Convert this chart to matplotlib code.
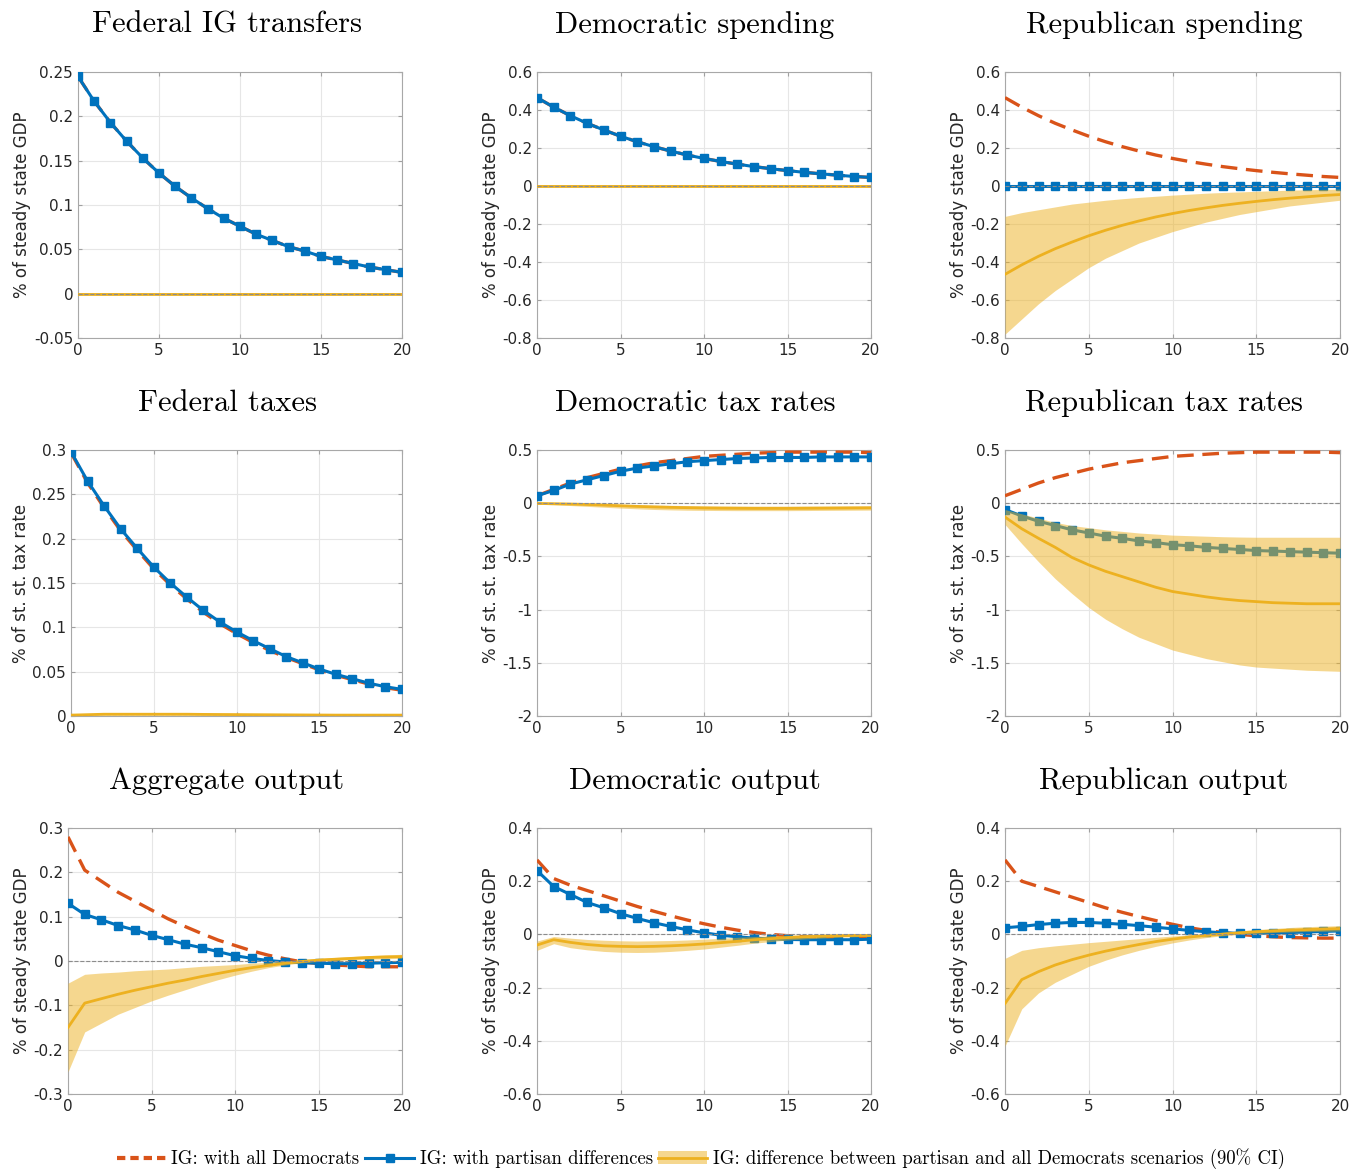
import numpy as np
import matplotlib
matplotlib.use("Agg")
import matplotlib.pyplot as plt
from matplotlib.patches import Patch
from matplotlib.lines import Line2D
from matplotlib.ticker import FuncFormatter

# horizon (quarters)
horizon = list(range(21))

titles = ["Federal IG transfers", "Democratic spending", "Republican spending",
          "Federal taxes", "Democratic tax rates", "Republican tax rates",
          "Aggregate output", "Democratic output", "Republican output"]
ylabels = ["% of steady state GDP", "% of steady state GDP", "% of steady state GDP",
           "% of st. st. tax rate", "% of st. st. tax rate", "% of st. st. tax rate",
           "% of steady state GDP", "% of steady state GDP", "% of steady state GDP"]

# --- Federal IG transfers ---
fed_ig_dem = [0.245, 0.217, 0.193, 0.172, 0.153, 0.136, 0.121, 0.108, 0.096, 0.085, 0.076,
              0.067, 0.060, 0.053, 0.048, 0.042, 0.038, 0.034, 0.030, 0.027, 0.024]
fed_ig_par = [0.245, 0.217, 0.193, 0.172, 0.153, 0.136, 0.121, 0.108, 0.096, 0.085, 0.076,
              0.067, 0.060, 0.053, 0.048, 0.042, 0.038, 0.034, 0.030, 0.027, 0.024]
fed_ig_diff = [0.0] * 21
fed_ig_lo = [-0.001] * 21
fed_ig_hi = [0.001] * 21

# --- Democratic spending ---
dem_sp_dem = [0.465, 0.415, 0.370, 0.330, 0.295, 0.262, 0.233, 0.207, 0.184, 0.163, 0.145,
              0.129, 0.115, 0.102, 0.091, 0.081, 0.072, 0.064, 0.057, 0.050, 0.045]
dem_sp_par = [0.465, 0.415, 0.370, 0.330, 0.295, 0.262, 0.233, 0.207, 0.184, 0.163, 0.145,
              0.129, 0.115, 0.102, 0.091, 0.081, 0.072, 0.064, 0.057, 0.050, 0.045]
dem_sp_diff = [0.0] * 21
dem_sp_lo = [-0.004] * 21
dem_sp_hi = [0.004] * 21

# --- Republican spending ---
rep_sp_dem = [0.465, 0.415, 0.370, 0.330, 0.295, 0.262, 0.233, 0.207, 0.184, 0.163, 0.145,
              0.129, 0.115, 0.102, 0.091, 0.081, 0.072, 0.064, 0.057, 0.050, 0.045]
rep_sp_par = [0.0] * 21
rep_sp_diff = [-0.465, -0.415, -0.370, -0.330, -0.295, -0.262, -0.233, -0.207, -0.184, -0.163, -0.145,
               -0.129, -0.115, -0.102, -0.091, -0.081, -0.072, -0.064, -0.057, -0.050, -0.045]
rep_sp_lo = [-0.78, -0.70, -0.62, -0.55, -0.49, -0.43, -0.38, -0.34, -0.30, -0.27, -0.24,
             -0.215, -0.19, -0.17, -0.15, -0.135, -0.12, -0.105, -0.095, -0.085, -0.075]
rep_sp_hi = [-0.16, -0.14, -0.125, -0.11, -0.095, -0.085, -0.075, -0.067, -0.06, -0.054, -0.048,
             -0.043, -0.038, -0.034, -0.031, -0.028, -0.025, -0.022, -0.02, -0.018, -0.016]

# --- Federal taxes ---
fed_tx_dem = [0.297, 0.263, 0.235, 0.209, 0.187, 0.166, 0.148, 0.132, 0.117, 0.104, 0.093,
              0.083, 0.074, 0.066, 0.059, 0.052, 0.046, 0.041, 0.036, 0.032, 0.029]
fed_tx_par = [0.298, 0.265, 0.237, 0.211, 0.189, 0.168, 0.150, 0.134, 0.119, 0.106, 0.095,
              0.085, 0.076, 0.067, 0.060, 0.053, 0.047, 0.042, 0.037, 0.033, 0.030]
fed_tx_diff = [0.001, 0.0015, 0.002, 0.002, 0.002, 0.002, 0.002, 0.002, 0.0018, 0.0017, 0.0016,
               0.0015, 0.0014, 0.0013, 0.0012, 0.0011, 0.001, 0.001, 0.001, 0.001, 0.001]
fed_tx_lo = [0.0, 0.0005, 0.001, 0.001, 0.001, 0.001, 0.001, 0.001, 0.0009, 0.0008, 0.0008,
             0.0007, 0.0006, 0.0006, 0.0005, 0.0005, 0.0004, 0.0004, 0.0004, 0.0004, 0.0004]
fed_tx_hi = [0.002, 0.0025, 0.003, 0.0032, 0.0033, 0.0033, 0.0033, 0.0032, 0.003, 0.0028, 0.0026,
             0.0024, 0.0022, 0.002, 0.0019, 0.0018, 0.0017, 0.0016, 0.0016, 0.0016, 0.0016]

# --- Democratic tax rates ---
dem_tx_dem = [0.07, 0.13, 0.19, 0.24, 0.28, 0.32, 0.35, 0.38, 0.40, 0.42, 0.44,
              0.45, 0.46, 0.47, 0.475, 0.48, 0.48, 0.48, 0.48, 0.48, 0.475]
dem_tx_par = [0.07, 0.12, 0.18, 0.22, 0.26, 0.30, 0.33, 0.35, 0.37, 0.39, 0.40,
              0.41, 0.42, 0.425, 0.43, 0.43, 0.43, 0.435, 0.435, 0.435, 0.435]
dem_tx_diff = [-0.002, -0.005, -0.008, -0.012, -0.018, -0.024, -0.030, -0.035, -0.039, -0.042, -0.045,
               -0.047, -0.048, -0.049, -0.049, -0.049, -0.048, -0.047, -0.046, -0.045, -0.044]
dem_tx_lo = [-0.01, -0.015, -0.022, -0.03, -0.038, -0.046, -0.053, -0.059, -0.063, -0.066, -0.068,
             -0.069, -0.07, -0.07, -0.07, -0.07, -0.069, -0.068, -0.067, -0.066, -0.065]
dem_tx_hi = [0.004, 0.002, 0.0, -0.002, -0.006, -0.01, -0.014, -0.017, -0.02, -0.022, -0.024,
             -0.025, -0.026, -0.027, -0.027, -0.027, -0.026, -0.026, -0.025, -0.024, -0.023]

# --- Republican tax rates ---
rep_tx_dem = [0.07, 0.13, 0.19, 0.24, 0.28, 0.32, 0.35, 0.38, 0.40, 0.42, 0.44,
              0.45, 0.46, 0.47, 0.475, 0.48, 0.48, 0.48, 0.48, 0.48, 0.475]
rep_tx_par = [-0.06, -0.12, -0.17, -0.21, -0.25, -0.28, -0.31, -0.33, -0.355, -0.37, -0.39,
              -0.40, -0.415, -0.425, -0.435, -0.445, -0.45, -0.455, -0.46, -0.465, -0.47]
rep_tx_diff = [-0.13, -0.24, -0.33, -0.415, -0.51, -0.58, -0.64, -0.69, -0.74, -0.79, -0.83,
               -0.855, -0.88, -0.90, -0.915, -0.925, -0.935, -0.94, -0.945, -0.945, -0.945]
rep_tx_lo = [-0.2, -0.38, -0.55, -0.71, -0.85, -0.98, -1.09, -1.18, -1.26, -1.32, -1.38,
             -1.42, -1.46, -1.49, -1.52, -1.54, -1.55, -1.56, -1.57, -1.575, -1.58]
rep_tx_hi = [-0.06, -0.10, -0.14, -0.18, -0.21, -0.23, -0.25, -0.265, -0.28, -0.29, -0.30,
             -0.305, -0.31, -0.315, -0.318, -0.32, -0.32, -0.32, -0.32, -0.32, -0.32]

# --- Aggregate output ---
agg_y_dem = [0.28, 0.205, 0.18, 0.155, 0.135, 0.115, 0.095, 0.078, 0.062, 0.047, 0.035,
             0.023, 0.013, 0.005, -0.002, -0.006, -0.009, -0.011, -0.013, -0.013, -0.013]
agg_y_par = [0.13, 0.105, 0.093, 0.08, 0.07, 0.058, 0.048, 0.038, 0.03, 0.021, 0.012,
             0.006, 0.001, -0.002, -0.004, -0.005, -0.006, -0.006, -0.005, -0.004, -0.003]
agg_y_diff = [-0.15, -0.095, -0.085, -0.075, -0.066, -0.058, -0.05, -0.043, -0.035, -0.028, -0.021,
              -0.015, -0.01, -0.005, -0.001, 0.002, 0.004, 0.006, 0.008, 0.009, 0.01]
agg_y_lo = [-0.25, -0.16, -0.14, -0.12, -0.105, -0.09, -0.077, -0.065, -0.053, -0.042, -0.032,
            -0.023, -0.015, -0.009, -0.004, -0.001, 0.001, 0.003, 0.004, 0.005, 0.006]
agg_y_hi = [-0.05, -0.03, -0.027, -0.025, -0.022, -0.02, -0.018, -0.015, -0.012, -0.01, -0.008,
            -0.005, -0.003, 0.0, 0.003, 0.006, 0.008, 0.01, 0.012, 0.014, 0.015]

# --- Democratic output ---
dem_y_dem = [0.28, 0.21, 0.185, 0.165, 0.145, 0.125, 0.105, 0.087, 0.07, 0.054, 0.04,
             0.027, 0.016, 0.007, 0.0, -0.005, -0.009, -0.011, -0.012, -0.012, -0.012]
dem_y_par = [0.24, 0.18, 0.15, 0.12, 0.10, 0.078, 0.06, 0.044, 0.03, 0.017, 0.006,
             -0.003, -0.009, -0.014, -0.017, -0.019, -0.02, -0.02, -0.02, -0.02, -0.018]
dem_y_diff = [-0.04, -0.02, -0.03, -0.038, -0.043, -0.045, -0.046, -0.045, -0.043, -0.04, -0.036,
              -0.031, -0.026, -0.02, -0.016, -0.012, -0.009, -0.007, -0.005, -0.004, -0.004]
dem_y_lo = [-0.06, -0.035, -0.05, -0.058, -0.064, -0.067, -0.068, -0.067, -0.064, -0.06, -0.055,
            -0.048, -0.041, -0.033, -0.027, -0.021, -0.017, -0.014, -0.011, -0.009, -0.008]
dem_y_hi = [-0.025, -0.008, -0.014, -0.019, -0.022, -0.024, -0.025, -0.024, -0.023, -0.021, -0.018,
            -0.015, -0.011, -0.008, -0.005, -0.003, -0.001, 0.0, 0.001, 0.001, 0.001]

# --- Republican output ---
rep_y_dem = [0.28, 0.20, 0.18, 0.16, 0.14, 0.12, 0.10, 0.083, 0.067, 0.052, 0.038,
             0.025, 0.015, 0.007, 0.0, -0.005, -0.009, -0.012, -0.013, -0.014, -0.014]
rep_y_par = [0.025, 0.03, 0.037, 0.042, 0.045, 0.045, 0.042, 0.038, 0.033, 0.027, 0.021,
             0.015, 0.01, 0.006, 0.004, 0.004, 0.005, 0.007, 0.009, 0.011, 0.013]
rep_y_diff = [-0.26, -0.17, -0.14, -0.115, -0.095, -0.078, -0.063, -0.05, -0.038, -0.027, -0.018,
              -0.01, -0.004, 0.001, 0.006, 0.01, 0.013, 0.016, 0.018, 0.02, 0.022]
rep_y_lo = [-0.42, -0.28, -0.22, -0.18, -0.15, -0.12, -0.097, -0.077, -0.06, -0.045, -0.032,
            -0.021, -0.012, -0.005, 0.0, 0.004, 0.007, 0.009, 0.011, 0.012, 0.013]
rep_y_hi = [-0.09, -0.06, -0.05, -0.043, -0.037, -0.031, -0.026, -0.021, -0.016, -0.011, -0.006,
            -0.002, 0.003, 0.008, 0.013, 0.018, 0.022, 0.026, 0.029, 0.031, 0.033]

all_dem = [fed_ig_dem, dem_sp_dem, rep_sp_dem, fed_tx_dem, dem_tx_dem, rep_tx_dem, agg_y_dem, dem_y_dem, rep_y_dem]
all_par = [fed_ig_par, dem_sp_par, rep_sp_par, fed_tx_par, dem_tx_par, rep_tx_par, agg_y_par, dem_y_par, rep_y_par]
all_diff = [fed_ig_diff, dem_sp_diff, rep_sp_diff, fed_tx_diff, dem_tx_diff, rep_tx_diff, agg_y_diff, dem_y_diff, rep_y_diff]
all_lo = [fed_ig_lo, dem_sp_lo, rep_sp_lo, fed_tx_lo, dem_tx_lo, rep_tx_lo, agg_y_lo, dem_y_lo, rep_y_lo]
all_hi = [fed_ig_hi, dem_sp_hi, rep_sp_hi, fed_tx_hi, dem_tx_hi, rep_tx_hi, agg_y_hi, dem_y_hi, rep_y_hi]

ylims = [(-0.05, 0.25), (-0.8, 0.6), (-0.8, 0.6),
         (0, 0.3), (-2, 0.5), (-2, 0.5),
         (-0.3, 0.3), (-0.6, 0.4), (-0.6, 0.4)]
ysteps = [0.05, 0.2, 0.2, 0.05, 0.5, 0.5, 0.1, 0.2, 0.2]

# axes boxes in pixels: left, right per column / top, bottom per row
W, H = 1353, 1170
col_lr = [[(78, 402), (537, 871), (1005, 1340)],
          [(71, 402), (537, 871), (1005, 1340)],
          [(68, 402), (537, 871), (1005, 1340)]]
row_tb = [(72, 338), (450, 716), (828, 1094)]
title_x = [227, 695, 1164]

c_dem = "#D95319"
c_par = "#0072BD"
c_diff = "#EDB120"
tick_col = "#262626"


def fmt(v, pos):
    v = round(v, 4)
    if abs(v) < 1e-9:
        return "0"
    return "%g" % v


fig = plt.figure(figsize=(W / 100, H / 100), dpi=100)

for i in range(9):
    r, c = i // 3, i % 3
    l, rr = col_lr[r][c]
    t, b = row_tb[r]
    ax = fig.add_axes([l / W, 1 - b / H, (rr - l) / W, (b - t) / H])

    ax.plot(horizon, all_dem[i], color=c_dem, ls=(0, (5, 2.6)), lw=2.4, zorder=3)
    ax.plot(horizon, all_par[i], color=c_par, lw=2.2, marker="s", ms=6, zorder=3)
    ax.fill_between(horizon, all_lo[i], all_hi[i], color=c_diff, alpha=0.5, lw=0, zorder=4)
    ax.plot(horizon, all_diff[i], color=c_diff, lw=2, zorder=5)
    ax.axhline(0, color="#8c8c8c", ls="--", lw=0.8, zorder=6)

    lo, hi = ylims[i]
    ax.set_ylim(lo, hi)
    ax.set_xlim(0, 20)
    ax.set_yticks(np.arange(lo, hi + ysteps[i] / 2, ysteps[i]))
    ax.set_xticks([0, 5, 10, 15, 20])
    ax.yaxis.set_major_formatter(FuncFormatter(fmt))
    ax.grid(True, color="#e6e6e6", lw=0.8)
    ax.set_axisbelow(True)
    ax.tick_params(direction="in", length=3, colors="#a0a0a0", labelcolor=tick_col,
                   labelsize=11, top=True, right=True)
    for s in ax.spines.values():
        s.set_color("#a8a8a8")
        s.set_linewidth(0.8)
    ax.set_ylabel(ylabels[i], fontsize=12, color=tick_col, labelpad=2)
    fig.text(title_x[c] / W, 1 - (t - 47) / H, titles[i], fontsize=22,
             family="cmr10", ha="center", va="center")

# legend
h1 = Line2D([], [], color=c_dem, ls=(0, (2, 1.2)), lw=3)
h2 = Line2D([], [], color=c_par, lw=2.2, marker="s", ms=6, markevery=[0, 1, 2])
h3 = (Patch(facecolor=c_diff, alpha=0.5, lw=0), Line2D([], [], color=c_diff, lw=2))
fig.legend([h1, h2, h3],
           ["IG: with all Democrats", "IG: with partisan differences",
            "IG: difference between partisan and all Democrats scenarios (90% CI)"],
           loc="center", bbox_to_anchor=(0.518, 1 - 1159 / H), ncol=3, frameon=False,
           prop={"family": "cmr10", "size": 13.5}, handlelength=2.6, columnspacing=0.3,
           handletextpad=0.3)

fig.savefig("out.png", dpi=100)
